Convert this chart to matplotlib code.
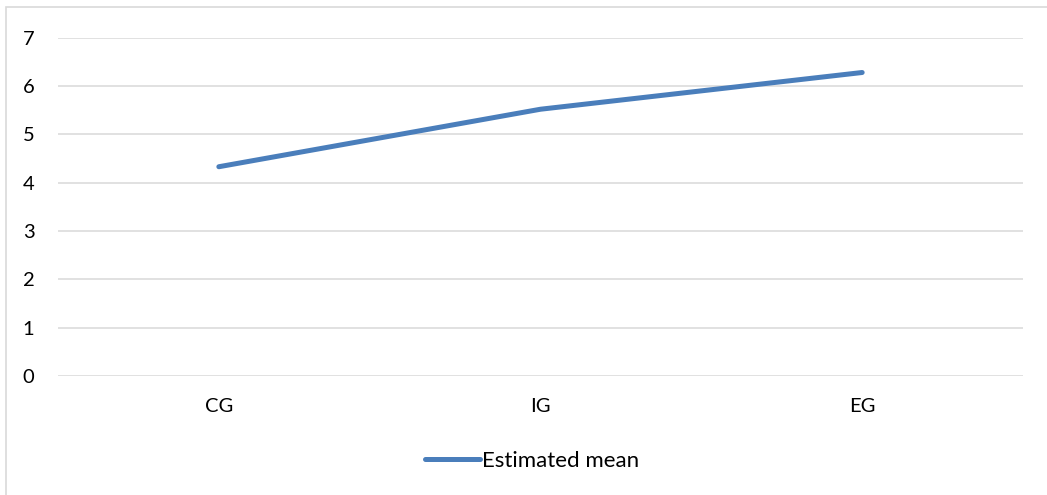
import matplotlib
matplotlib.use("Agg")
import matplotlib.pyplot as plt
from matplotlib.patches import Rectangle

# Estimated means per group
groups = ["CG", "IG", "EG"]
estimated_mean = [4.33, 5.52, 6.28]
y_ticks = [0, 1, 2, 3, 4, 5, 6, 7]

plt.rcParams["font.family"] = ["Lato", "DejaVu Sans"]

W, H = 1047, 495
fig = plt.figure(figsize=(W / 100, H / 100), dpi=100)

# Chart area border (light grey frame running off the right/bottom edges)
fig.patches.append(Rectangle((6 / W, -0.1), 1.2, (H - 7) / H + 0.1,
                             transform=fig.transFigure, fill=False,
                             edgecolor="#D9D9D9", linewidth=1.2))

ax = fig.add_axes([58 / W, (H - 376) / H, (1023 - 58) / W, (376 - 37.7) / H])

x = list(range(len(groups)))
ax.plot(x, estimated_mean, color="#4A7EBB", linewidth=3.6,
        solid_capstyle="round", solid_joinstyle="round", label="Estimated mean")

ax.set_xlim(-0.5, len(groups) - 0.5)
ax.set_ylim(0, 7)
ax.set_yticks(y_ticks)
ax.set_xticks(x)
ax.set_xticklabels(groups)
ax.grid(axis="y", color="#D9D9D9", linewidth=1.1)
ax.set_axisbelow(True)
for s in ax.spines.values():
    s.set_visible(False)
ax.tick_params(axis="both", length=0, labelsize=14.5, colors="#000000")
ax.tick_params(axis="y", pad=17)
ax.tick_params(axis="x", pad=16)

leg = fig.legend(loc="center", bbox_to_anchor=(532 / W, (H - 461) / H),
                 frameon=False, fontsize=16, handlelength=2.5,
                 handletextpad=0.1)

fig.savefig("out.png", dpi=100, facecolor="white")
